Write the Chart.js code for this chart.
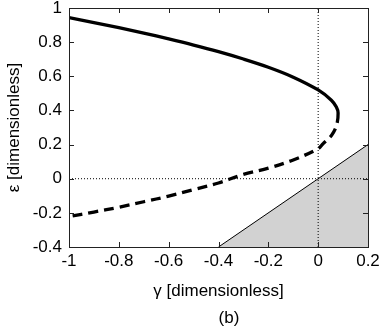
<!DOCTYPE html>
<html>
<head>
    <meta charset="UTF-8" />
    <title>Bifurcation diagram (b)</title>
    <script src="https://cdn.jsdelivr.net/npm/chart.js"></script>
    <style>
        * { margin: 0; padding: 0; box-sizing: border-box; }
        body { background: #fff; }
        #wrap { width: 382px; height: 331px; }
    </style>
</head>
<body>
<div id="wrap"><canvas id="chart" width="382" height="331"></canvas></div>

<script>
    // axis ticks
    const xTicks = [-1, -0.8, -0.6, -0.4, -0.2, 0, 0.2];
    const yTicks = [-0.4, -0.2, 0, 0.2, 0.4, 0.6, 0.8, 1];

    // stable branch (solid), ends at the fold
    const solidGamma = [-1, -0.9, -0.8, -0.7, -0.6, -0.5, -0.4, -0.3, -0.2, -0.1, 0, 0.053, 0.073, 0.08];
    const solidEps   = [0.944, 0.915, 0.885, 0.853, 0.819, 0.783, 0.744, 0.701, 0.653, 0.595, 0.52, 0.46, 0.42, 0.385];

    // unstable branch (dashed), from the fold back to gamma = -1
    const dashGamma = [0.074, 0.054, 0.02, 0, -0.1, -0.2, -0.3, -0.4, -0.5, -0.6, -0.7, -0.8, -0.9, -1];
    const dashEps   = [0.313, 0.255, 0.206, 0.176, 0.11, 0.062, 0.025, -0.025, -0.064, -0.102, -0.135, -0.167, -0.195, -0.222];

    // boundary eps = gamma, shaded below
    const edgeGamma = [-0.4, 0.2];
    const edgeEps   = [-0.4, 0.2];

    // dotted reference lines
    const vLineGamma = [0, 0];
    const vLineEps   = [-0.4, 1];
    const hLineGamma = [-1, 0.2];
    const hLineEps   = [0, 0];

    const pts = (xs, ys) => xs.map((x, i) => ({ x: x, y: ys[i] }));
    const FONT = "'Liberation Sans', Arial, sans-serif";

    // one continuous curve so the fold stays smooth; dashed after the fold point
    const foldIndex = solidGamma.length - 1;
    const branch = pts(solidGamma.concat(dashGamma), solidEps.concat(dashEps));

    // box + inward ticks, plus the panel label
    const boxPlugin = {
        id: 'boxPlugin',
        afterDraw(chart) {
            const { ctx, chartArea: a, scales } = chart;
            ctx.save();
            ctx.strokeStyle = '#222';
            ctx.lineWidth = 1;
            ctx.strokeRect(Math.round(a.left) + 0.5, Math.round(a.top) + 0.5,
                Math.round(a.right - a.left), Math.round(a.bottom - a.top));
            const tl = 5;
            ctx.beginPath();
            xTicks.forEach(v => {
                const px = Math.round(scales.x.getPixelForValue(v)) + 0.5;
                ctx.moveTo(px, a.bottom); ctx.lineTo(px, a.bottom - tl);
                ctx.moveTo(px, a.top); ctx.lineTo(px, a.top + tl);
            });
            yTicks.forEach(v => {
                const py = Math.round(scales.y.getPixelForValue(v)) + 0.5;
                ctx.moveTo(a.left, py); ctx.lineTo(a.left + tl, py);
                ctx.moveTo(a.right, py); ctx.lineTo(a.right - tl, py);
            });
            ctx.stroke();

            ctx.fillStyle = '#000';
            ctx.font = '17px ' + FONT;
            ctx.textAlign = 'center';
            ctx.textBaseline = 'middle';
            ctx.fillText('(b)', 229, 318);
            ctx.restore();
        }
    };

    new Chart(document.getElementById('chart'), {
        type: 'scatter',
        data: {
            datasets: [
                {
                    label: 'equilibria',
                    data: branch,
                    showLine: true,
                    borderColor: '#000',
                    borderWidth: 3.3,
                    tension: 0.35,
                    pointRadius: 0,
                    segment: {
                        borderDash: c => c.p0DataIndex >= foldIndex ? [10, 6] : undefined
                    }
                },
                {
                    label: 'gamma = 0',
                    data: pts(vLineGamma, vLineEps),
                    showLine: true,
                    borderColor: '#000',
                    borderWidth: 1,
                    borderDash: [1, 2],
                    pointRadius: 0
                },
                {
                    label: 'eps = 0',
                    data: pts(hLineGamma, hLineEps),
                    showLine: true,
                    borderColor: '#000',
                    borderWidth: 1,
                    borderDash: [1, 2],
                    pointRadius: 0
                },
                {
                    label: 'eps = gamma',
                    data: pts(edgeGamma, edgeEps),
                    showLine: true,
                    borderColor: '#000',
                    borderWidth: 1,
                    backgroundColor: '#d2d2d2',
                    fill: 'start',
                    pointRadius: 0
                }
            ]
        },
        options: {
            responsive: false,
            animation: false,
            events: [],
            layout: { padding: { left: 0, top: 8, right: 14, bottom: 0 } },
            plugins: {
                legend: { display: false },
                tooltip: { enabled: false }
            },
            scales: {
                x: {
                    type: 'linear',
                    min: -1,
                    max: 0.2,
                    afterBuildTicks: s => { s.ticks = xTicks.map(v => ({ value: v })); },
                    afterFit: s => { s.height = 84; s.paddingLeft = 0; s.paddingRight = 0; },
                    grid: { display: true, drawOnChartArea: false, drawTicks: false },
                    border: { display: false },
                    ticks: {
                        color: '#000',
                        padding: 4,
                        maxRotation: 0,
                        font: { family: FONT, size: 17 },
                        callback: v => String(v)
                    },
                    title: {
                        display: true,
                        text: 'γ [dimensionless]',
                        color: '#000',
                        font: { family: FONT, size: 17 },
                        padding: { top: 0, bottom: 29 }
                    }
                },
                y: {
                    type: 'linear',
                    min: -0.4,
                    max: 1,
                    afterBuildTicks: s => { s.ticks = yTicks.map(v => ({ value: v })); },
                    afterFit: s => { s.width = 69; s.paddingTop = 0; s.paddingBottom = 0; },
                    grid: { display: true, drawOnChartArea: false, drawTicks: false },
                    border: { display: false },
                    ticks: {
                        color: '#000',
                        padding: 7,
                        font: { family: FONT, size: 17 },
                        callback: v => String(v)
                    },
                    title: {
                        display: true,
                        text: 'ε [dimensionless]',
                        color: '#000',
                        font: { family: FONT, size: 17 },
                        padding: { top: 4, bottom: 0 }
                    }
                }
            }
        },
        plugins: [boxPlugin]
    });
</script>
</body>
</html>
